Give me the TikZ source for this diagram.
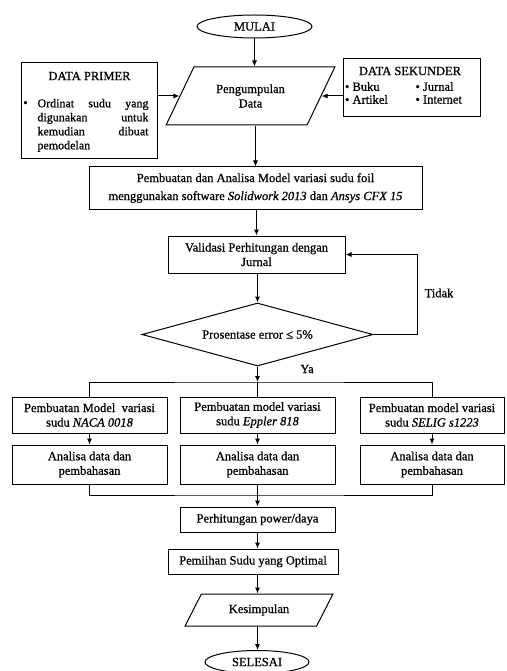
\documentclass[tikz,border=0pt]{standalone}
\usepackage{fontspec}
\setmainfont[FakeBold=0.8]{Liberation Serif}
\usetikzlibrary{shapes.geometric,arrows.meta}
\begin{document}
\begin{tikzpicture}[x=1pt,y=-1pt,line width=1pt,
  txt/.style={font=\fontsize{12.5}{14.5}\selectfont},
  box/.style={draw,rectangle,inner sep=0pt,align=center,txt},
  arr/.style={-{Latex[length=6pt,width=5pt]}},
  para/.style={draw,trapezium,trapezium stretches=true,inner sep=0pt,align=center,txt},
  oval/.style={draw,ellipse,inner sep=0pt,txt}]
\useasboundingbox (0,0) rectangle (506,671);
\coordinate (col) at (257.5,0);
\coordinate (lp) at (417,0);
% start
\node[oval,minimum width=115pt,minimum height=23pt] (mulai) at (254.5,26.5) {MULAI};
\node[para,trapezium left angle=54,trapezium right angle=126,minimum width=169pt,minimum height=58pt] (pg) at (250.5,96) {Pengumpulan\\Data};
% data primer
\node[box,minimum width=136pt,minimum height=96pt] (dp) at (89,111) {};
\node[txt,inner sep=0pt] (dpt) at (89.5,76) {DATA PRIMER};
\node[inner sep=0pt,font=\fontsize{12.5}{14}\selectfont] (dpbul) at (25.5,104) {•};
\node[anchor=north west,inner sep=0pt,align=left,font=\fontsize{12}{14}\selectfont] (dpx) at (37,98.5)
  {\makebox[111pt][s]{Ordinat sudu yang}\\\makebox[111pt][s]{digunakan untuk}\\\makebox[111pt][s]{kemudian dibuat}\\pemodelan};
% data sekunder
\node[box,minimum width=137pt,minimum height=58pt] (ds) at (411.5,88) {};
\node[txt,inner sep=0pt] (dst) at (410,71) {DATA SEKUNDER};
\node[txt,anchor=west,inner sep=0pt] (ds1) at (344.5,86.5) {• Buku};
\node[txt,anchor=west,inner sep=0pt] (ds2) at (415,86.5) {• Jurnal};
\node[txt,anchor=west,inner sep=0pt] (ds3) at (344.5,99.5) {• Artikel};
\node[txt,anchor=west,inner sep=0pt] (ds4) at (415,99.5) {• Internet};
% main column
\node[box,minimum width=333pt,minimum height=42pt,font=\fontsize{12.5}{18}\selectfont] (b2) at (255.5,188)
  {Pembuatan dan Analisa Model variasi sudu foil\\menggunakan software \textit{Solidwork 2013} dan \textit{Ansys CFX 15}};
\node[box,minimum width=177pt,minimum height=37pt] (val) at (256.5,254.5) {Validasi Perhitungan dengan\\Jurnal};
\node[draw,diamond,aspect=3.67,inner sep=0pt,minimum width=231pt,minimum height=63pt,txt] (dia) at (257.5,334.5) {Prosentase error ≤ 5\%};
\node[txt,inner sep=0pt] (tidak) at (439,293) {Tidak};
\node[txt,inner sep=0pt] (ya) at (307,369) {Ya};
\coordinate (bar1) at (257.5,382);
\coordinate (bar2) at (257.5,495);
% three branches
\node[box,minimum width=155pt,minimum height=36pt] (t1) at (89.5,415) {Pembuatan Model\ \ variasi\\sudu \textit{NACA 0018}};
\node[box,minimum width=155pt,minimum height=36pt] (t2) at (257.5,415) {Pembuatan model variasi\\sudu \textit{Eppler 818}};
\node[box,minimum width=144pt,minimum height=36pt] (t3) at (432,415) {Pembuatan model variasi\\sudu \textit{SELIG s1223}};
\node[box,minimum width=155pt,minimum height=39pt] (a1) at (89.5,464.5) {Analisa data dan\\pembahasan};
\node[box,minimum width=155pt,minimum height=39pt] (a2) at (257.5,464.5) {Analisa data dan\\pembahasan};
\node[box,minimum width=144pt,minimum height=39pt] (a3) at (432,464.5) {Analisa data dan\\pembahasan};
\node[box,minimum width=155pt,minimum height=25pt] (ph) at (257.5,519.5) {Perhitungan power/daya};
\node[box,minimum width=170pt,minimum height=25pt] (pm) at (253,561.5) {Pemiihan Sudu yang Optimal};
\node[para,trapezium left angle=53,trapezium right angle=127,minimum width=148pt,minimum height=32pt] (ks) at (259,610) {Kesimpulan};
\node[oval,minimum width=104pt,minimum height=23pt] (sel) at (257,662) {SELESAI};
% connectors
\draw[arr] (mulai.south) -- (mulai.south |- pg.north);
\draw[arr] (dp.east |- pg.west) -- (pg.west);
\draw[arr] (ds.west |- pg.east) -- (pg.east);
\draw[arr] (b2.north |- pg.south) -- (b2.north);
\draw[arr] (val.north |- b2.south) -- (val.north);
\draw[arr] (dia.north |- val.south) -- (dia.north);
\draw[arr] (dia.east) -- (dia.east -| lp) -- (val.east -| lp) -- (val.east);
\draw[arr] (dia.south) -- (bar1);
\draw (t1.north) |- (bar1) -| (t3.north);
\draw (bar1) -- (t2.north);
\draw[arr] (t1.south) -- (a1.north);
\draw[arr] (t2.south) -- (a2.north);
\draw[arr] (t3.south) -- (a3.north);
\draw (a1.south) |- (bar2) -| (a3.south);
\draw (a2.south) -- (bar2);
\draw[arr] (bar2) -- (ph.north);
\draw[arr] (ph.south -| col) -- (pm.north -| col);
\draw[arr] (pm.south -| col) -- (ks.north -| col);
\draw[arr] (ks.south -| col) -- (sel.north -| col);
\end{tikzpicture}
\end{document}
